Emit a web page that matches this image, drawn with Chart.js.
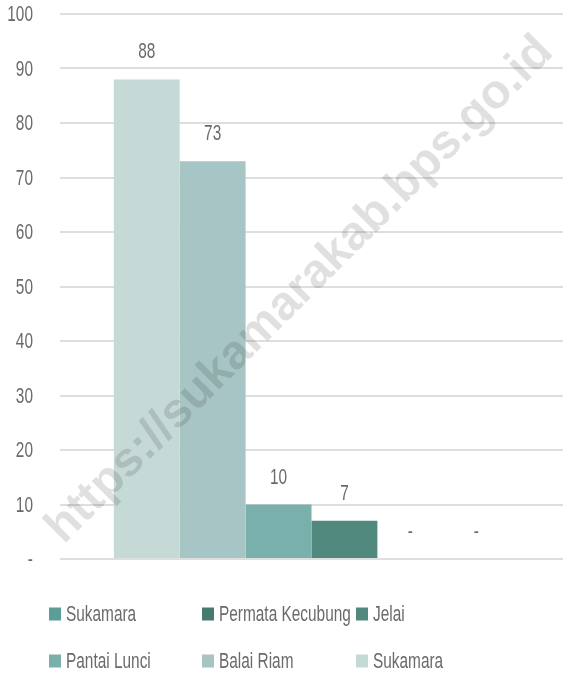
<!DOCTYPE html>
<html lang="id">
<head>
<meta charset="UTF-8">
<title>Chart</title>
<script src="https://cdn.jsdelivr.net/npm/chart.js"></script>
<style>
  html, body { margin: 0; padding: 0; background: #fff; }
  #wrap { width: 563px; height: 675px; position: relative; }
</style>
</head>
<body>
<div id="wrap"><canvas id="chart" width="563" height="675"></canvas></div>
<script>
// data, bars from left to right
const categories = ['']
const seriesNames = ['Sukamara', 'Balai Riam', 'Pantai Lunci', 'Jelai', 'Permata Kecubung', 'Sukamara']
const seriesValues = [88, 73, 10, 7, 0, 0]
const yTicks = [0, 10, 20, 30, 40, 50, 60, 70, 80, 90, 100]

const colors = ['#c5d9d7', '#a7c5c4', '#7ab0ac', '#52897f', '#457a73', '#5a9e97']
const FONT = "22px 'Liberation Sans', Arial, sans-serif"
const TEXT = '#6a6a6a'
const SQUEEZE = 0.7

// condensed text: no narrow font installed, so squeeze horizontally
function narrowText(ctx, text, x, y, align) {
  ctx.save()
  ctx.font = FONT
  ctx.fillStyle = TEXT
  ctx.textBaseline = 'middle'
  ctx.textAlign = align
  ctx.translate(x, y)
  ctx.scale(SQUEEZE, 1)
  ctx.fillText(text, 0, 0)
  ctx.restore()
}

const datasets = seriesNames.map((name, i) => ({
  label: name,
  data: [seriesValues[i]],
  backgroundColor: colors[i],
  borderWidth: 0,
  barPercentage: 1,
  categoryPercentage: 0.786
}))

const yLabels = {
  id: 'yLabels',
  afterDraw(chart) {
    const y = chart.scales.y
    y.ticks.forEach(t => {
      narrowText(chart.ctx, t.value === 0 ? '-' : String(t.value), 33, y.getPixelForValue(t.value) + 1, 'right')
    })
  }
}

const valueLabels = {
  id: 'valueLabels',
  afterDatasetsDraw(chart) {
    chart.data.datasets.forEach((ds, i) => {
      chart.getDatasetMeta(i).data.forEach((bar, j) => {
        const v = ds.data[j]
        narrowText(chart.ctx, v === 0 ? '-' : String(v), bar.x, bar.y - 27, 'center')
      })
    })
  }
}

// grid style legend, order reversed like the original
const gridLegend = {
  id: 'gridLegend',
  afterDraw(chart) {
    const ctx = chart.ctx
    const cols = [49, 202, 356]
    const rows = [614, 661]
    const items = chart.data.datasets.slice().reverse()
    items.forEach((ds, k) => {
      const x = cols[k % 3], y = rows[Math.floor(k / 3)]
      ctx.fillStyle = ds.backgroundColor
      ctx.fillRect(x, y - 6.5, 12, 13)
      narrowText(ctx, ds.label, x + 17, y + 1, 'left')
    })
  }
}

const watermark = {
  id: 'watermark',
  afterDraw(chart) {
    const ctx = chart.ctx
    const txt = 'https://sukamarakab.bps.go.id'
    ctx.save()
    ctx.font = 'bold 40px "Liberation Sans", Arial, sans-serif'
    const size = 40 * 695 / ctx.measureText(txt).width
    ctx.font = 'bold ' + size.toFixed(1) + 'px "Liberation Sans", Arial, sans-serif'
    ctx.translate(300, 290)
    ctx.rotate(-Math.PI / 4)
    ctx.fillStyle = 'rgba(0,0,0,0.12)'
    ctx.textAlign = 'center'
    ctx.textBaseline = 'middle'
    ctx.fillText(txt, 0, 0)
    ctx.restore()
  }
}

new Chart(document.getElementById('chart').getContext('2d'), {
  type: 'bar',
  data: { labels: categories, datasets: datasets },
  options: {
    responsive: false,
    animation: false,
    layout: { padding: { top: 14, right: 0, bottom: 116, left: 0 } },
    plugins: {
      legend: { display: false },
      tooltip: { enabled: false }
    },
    scales: {
      x: { display: false },
      y: {
        min: 0,
        max: 100,
        afterBuildTicks(scale) { scale.ticks = yTicks.map(v => ({ value: v })) },
        afterFit(scale) { scale.width = 60; scale.paddingTop = 0; scale.paddingBottom = 0 },
        ticks: { display: false },
        grid: { color: '#dedede', lineWidth: 2, drawTicks: false },
        border: { display: false }
      }
    }
  },
  plugins: [valueLabels, yLabels, gridLegend, watermark]
})
</script>
</body>
</html>
